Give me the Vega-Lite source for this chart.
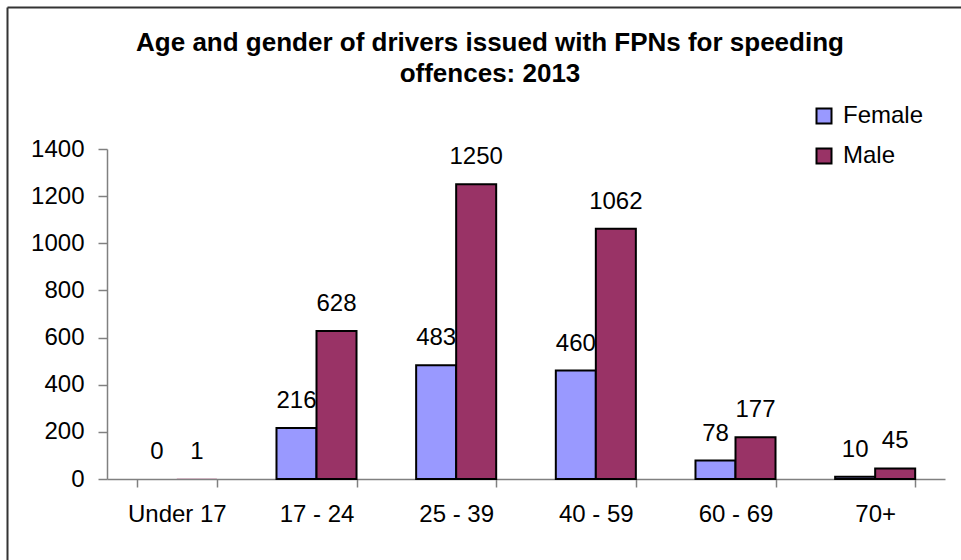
{
  "$schema": "https://vega.github.io/schema/vega-lite/v6.json",
  "autosize": {"type": "none"},
  "padding": {"left": 7, "top": 7, "right": 0, "bottom": 0},
  "width": 954,
  "height": 553,
  "background": "white",
  "config": {
    "view": {"stroke": null},
    "font": "Liberation Sans"
  },
  "title": {
    "text": ["Age and gender of drivers issued with FPNs for speeding", "offences: 2013"],
    "frame": "group",
    "anchor": "middle",
    "fontSize": 26,
    "fontWeight": "bold",
    "font": "Liberation Sans",
    "color": "black",
    "lineHeight": 31,
    "offset": -83,
    "dx": 6
  },
  "datasets": {
    "fpn": [
      {"age": "Under 17", "gender": "Female", "count": 0},
      {"age": "Under 17", "gender": "Male", "count": 1},
      {"age": "17 - 24", "gender": "Female", "count": 216},
      {"age": "17 - 24", "gender": "Male", "count": 628},
      {"age": "25 - 39", "gender": "Female", "count": 483},
      {"age": "25 - 39", "gender": "Male", "count": 1250},
      {"age": "40 - 59", "gender": "Female", "count": 460},
      {"age": "40 - 59", "gender": "Male", "count": 1062},
      {"age": "60 - 69", "gender": "Female", "count": 78},
      {"age": "60 - 69", "gender": "Male", "count": 177},
      {"age": "70+", "gender": "Female", "count": 10},
      {"age": "70+", "gender": "Male", "count": 45}
    ],
    "frame": [{"v": 0}, {"v": 1}]
  },
  "layer": [
    {
      "data": {"name": "fpn"},
      "encoding": {
        "x": {
          "field": "age", "type": "nominal", "sort": null,
          "scale": {"range": [100, 938], "paddingInner": 0.427, "paddingOuter": 0.2135},
          "axis": {
            "orient": "bottom", "offset": -81, "title": null,
            "labelAngle": 0, "labelFontSize": 24, "labelColor": "black", "labelFont": "Liberation Sans",
            "labelPadding": 15, "tickSize": 8, "tickBand": "extent",
            "domainColor": "#808080", "tickColor": "#808080", "domainWidth": 1.5, "tickWidth": 1.5
          }
        },
        "xOffset": {"field": "gender", "type": "nominal", "sort": ["Female", "Male"]},
        "y": {
          "field": "count", "type": "quantitative",
          "scale": {"domain": [0, 1400], "range": [472, 142], "nice": false},
          "axis": {
            "orient": "left", "offset": -100, "title": null, "grid": false, "format": "d",
            "values": [0, 200, 400, 600, 800, 1000, 1200, 1400],
            "labelFontSize": 24, "labelColor": "black", "labelFont": "Liberation Sans",
            "labelPadding": 14, "tickSize": 9,
            "domainColor": "#808080", "tickColor": "#808080", "domainWidth": 1.5, "tickWidth": 1.5
          }
        }
      },
      "layer": [
        {
          "mark": {"type": "bar", "stroke": "black", "opacity": 1},
          "encoding": {
            "strokeWidth": {"condition": {"test": "datum.count < 5", "value": 0}, "value": 2},
            "color": {
              "field": "gender", "type": "nominal",
              "scale": {"domain": ["Female", "Male"], "range": ["#9999FF", "#993366"]},
              "legend": {
                "title": null, "orient": "none", "legendX": 805, "legendY": 97,
                "symbolType": "square", "symbolSize": 225, "symbolStrokeColor": "black",
                "symbolStrokeWidth": 2, "symbolOpacity": 1,
                "labelFontSize": 24, "labelFont": "Liberation Sans", "labelColor": "black",
                "labelOffset": 7, "rowPadding": 16, "padding": 0
              }
            }
          }
        },
        {
          "mark": {"type": "text", "fontSize": 24, "font": "Liberation Sans", "color": "black", "baseline": "alphabetic", "dy": -20},
          "encoding": {
            "text": {"field": "count", "type": "quantitative"}
          }
        }
      ]
    },
    {
      "data": {"name": "frame"},
      "mark": {"type": "point", "opacity": 0},
      "encoding": {
        "x": {
          "field": "v", "type": "quantitative", "scale": {"domain": [0, 1], "nice": false},
          "axis": {"orient": "top", "offset": 0, "title": null, "labels": false, "ticks": false, "grid": false, "domainColor": "#333333", "domainWidth": 2}
        },
        "y": {
          "field": "v", "type": "quantitative", "scale": {"domain": [0, 1], "nice": false},
          "axis": {"orient": "left", "offset": 0, "title": null, "labels": false, "ticks": false, "grid": false, "domainColor": "#333333", "domainWidth": 2}
        }
      }
    }
  ],
  "resolve": {"scale": {"x": "independent", "y": "independent"}, "axis": {"x": "independent", "y": "independent"}}
}
